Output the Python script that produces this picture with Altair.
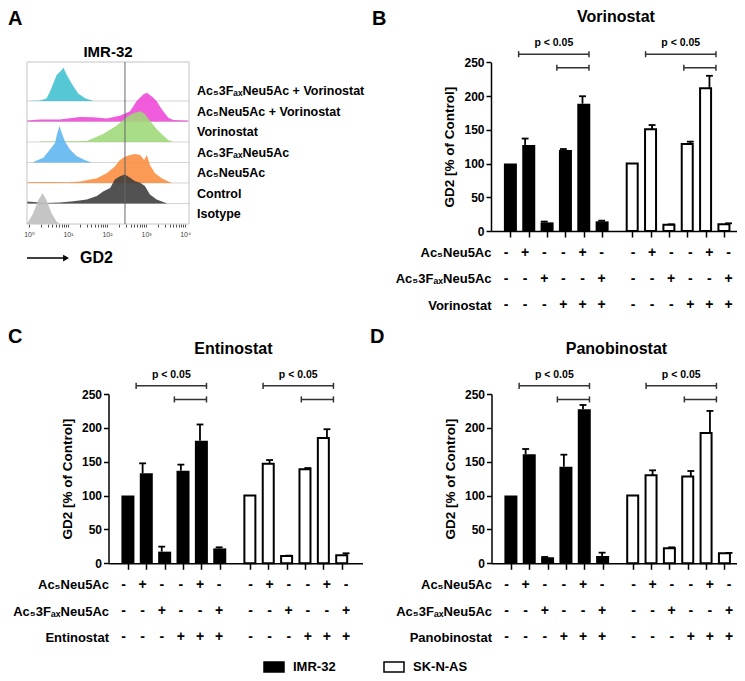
import altair as alt
import pandas as pd

FONT = "Liberation Sans, Arial, DejaVu Sans, sans-serif"

# ---------------- data ----------------
cells = ["IMR-32", "SK-N-AS"]
row_ac5 = "Ac₅Neu5Ac"
row_f = "Ac₅3FₐₓNeu5Ac"
sign_ac5 = ["-", "+", "-", "-", "+", "-"]
sign_f = ["-", "-", "+", "-", "-", "+"]
sign_hdac = ["-", "-", "-", "+", "+", "+"]

# B: Vorinostat
vor_imr = [100, 127.5, 12.8, 120, 188.7, 14.3]
vor_imr_err = [0, 9.5, 1.2, 1.5, 11, 1.0]
vor_sk = [100, 150.7, 9.4, 129, 211.5, 10]
vor_sk_err = [0, 6.3, 0.5, 3.4, 18.5, 1.4]
# C: Entinostat
ent_imr = [100, 133, 17.2, 136.8, 181, 22]
ent_imr_err = [0, 14.6, 7.4, 8.9, 24, 1.6]
ent_sk = [100, 147, 10.8, 139, 185, 11.8]
ent_sk_err = [0, 5.5, 0.5, 1.7, 13, 3]
# D: Panobinostat
pan_imr = [100, 160.9, 8.9, 142.7, 227.4, 10.8]
pan_imr_err = [0, 7.9, 0.5, 17.7, 6.4, 4.9]
pan_sk = [100, 130, 22.1, 128, 192.4, 14.8]
pan_sk_err = [0, 7.3, 1.5, 8.3, 32.6, 0.5]

# A: flow cytometry histograms (log10 GD2 intensity, relative count)
hist_labels = ["Ac₅3FₐₓNeu5Ac + Vorinostat", "Ac₅Neu5Ac + Vorinostat", "Vorinostat",
               "Ac₅3FₐₓNeu5Ac", "Ac₅Neu5Ac", "Control", "Isotype"]
hist_colors = ["#3fbfcf", "#ee45d6", "#9ed877", "#5cb4ef", "#fa8c3d", "#3a3a3a", "#bdbdbd"]
cyn_x = [-0.05, 0.28, 0.45, 0.54, 0.71, 0.84, 0.88, 0.97, 1.09, 1.26, 1.44, 1.65]
cyn_h = [0.0, 0.02, 0.12, 0.46, 1.27, 1.51, 1.63, 1.27, 0.86, 0.37, 0.13, 0.0]
mag_x = [-0.05, 0.28, 0.79, 1.31, 1.65, 1.99, 2.33, 2.59, 2.76, 2.93, 3.02, 3.15, 3.27, 3.4, 3.57, 3.7, 4.08]
mag_h = [0.05, 0.1, 0.1, 0.22, 0.2, 0.15, 0.28, 0.5, 1.0, 1.32, 1.4, 1.22, 1.0, 0.59, 0.18, 0.07, 0.05]
grn_x = [0.28, 1.0, 1.48, 1.9, 2.25, 2.5, 2.67, 2.85, 2.97, 3.1, 3.27, 3.44, 3.57, 3.7]
grn_h = [0.02, 0.03, 0.05, 0.39, 0.8, 1.2, 1.4, 1.5, 1.37, 1.04, 0.63, 0.31, 0.1, 0.0]
blu_x = [0.11, 0.37, 0.54, 0.67, 0.72, 0.78, 0.84, 0.92, 1.05, 1.22, 1.44, 1.61]
blu_h = [0.02, 0.23, 0.63, 0.96, 1.4, 1.78, 1.45, 1.04, 0.63, 0.31, 0.11, 0.0]
ora_x = [-0.05, 0.5, 1.0, 1.31, 1.74, 1.99, 2.2, 2.33, 2.46, 2.59, 2.72, 2.85, 2.95, 3.02, 3.1, 3.23, 3.4, 3.57, 3.67]
ora_h = [0.04, 0.05, 0.04, 0.07, 0.23, 0.47, 0.8, 1.12, 1.28, 1.37, 1.41, 1.37, 1.12, 1.37, 0.88, 0.47, 0.23, 0.07, 0.0]
ctl_x = [-0.05, 0.11, 0.45, 0.79, 1.14, 1.48, 1.74, 1.91, 2.08, 2.2, 2.33, 2.46, 2.59, 2.72, 2.85, 2.97, 3.1, 3.27, 3.44, 3.54]
ctl_h = [0.1, 0.07, 0.03, 0.05, 0.11, 0.2, 0.36, 0.6, 0.76, 1.17, 1.33, 1.41, 1.25, 1.09, 1.01, 0.85, 0.44, 0.2, 0.07, 0.0]
iso_x = [-0.05, -0.02, 0.11, 0.24, 0.35, 0.45, 0.58, 0.71, 0.79]
iso_h = [0.05, 0.11, 0.52, 1.17, 1.5, 1.17, 0.52, 0.11, 0.0]
hist_logx = [cyn_x, mag_x, grn_x, blu_x, ora_x, ctl_x, iso_x]
hist_h = [cyn_h, mag_h, grn_h, blu_h, ora_h, ctl_h, iso_h]
gate_log = 2.46
log_ticks = [m * 10 ** k for k in range(4) for m in range(1, 10)] + [10000]

# ---------------- layout constants ----------------
W, H = 729, 665
PX = 19.12          # px per bar slot
GROUP_OFF = 6.64    # slot offset of second cell line
XMIN = -0.785
HW = 0.34           # half bar width in slots
CAP = 0.18
BR_LONG, BR_SHORT, P_Y, TITLE_Y = 262, 242, 278, 309

layers = []


def txt(**kw):
    base = dict(font=FONT, fontWeight="bold", color="black")
    base.update(kw)
    return base


def bar_panel(ax, y0, y250, xmax, imr, imr_err, sk, sk_err, drug, letter, letter_xy):
    xs = alt.Scale(domain=[XMIN, xmax], range=[ax, ax + (xmax - XMIN) * PX], nice=False, zero=False)
    ys = alt.Scale(domain=[0, 250], range=[y0, y250], nice=False, zero=False)
    n = len(imr)
    df = pd.DataFrame({
        "pos": [float(i) for i in range(n)] + [i + GROUP_OFF for i in range(n)],
        "value": imr + sk,
        "err": imr_err + sk_err,
        "cell": [cells[0]] * n + [cells[1]] * n,
    })
    df["top"] = df["value"] + df["err"]
    df["cl"] = df["pos"] - CAP
    df["cr"] = df["pos"] + CAP
    fill = alt.Fill("cell:N", scale=alt.Scale(domain=cells, range=["#000000", "#ffffff"]),
                    legend=alt.Legend(orient="none", legendX=255, legendY=648, direction="horizontal",
                                      title=None, symbolType="M-1,-0.5H1V0.5H-1Z", symbolSize=400,
                                      symbolStrokeColor="black", symbolStrokeWidth=1.5,
                                      labelFont=FONT, labelFontSize=13, labelFontWeight="bold",
                                      labelColor="black", labelOffset=8, columnPadding=45, padding=0))
    xaxis = alt.Axis(orient="bottom", offset=y0 - H, values=list(df["pos"]), labels=False, title=None,
                     tickSize=6, tickWidth=1.5, tickColor="black", domainColor="black", domainWidth=1.5,
                     grid=False)
    yaxis = alt.Axis(orient="left", offset=-ax, values=[0, 50, 100, 150, 200, 250], title="GD2 [% of Control]",
                     tickSize=5, tickWidth=1.5, tickColor="black", domainColor="black", domainWidth=1.5,
                     labelFont=FONT, labelFontSize=12, labelFontWeight="bold", labelColor="black",
                     labelPadding=2, titleFont=FONT, titleFontSize=13.5, titleFontWeight="bold",
                     titleColor="black", titlePadding=7, grid=False)
    imr_df = df[df.cell == cells[0]]
    sk_df = df[df.cell == cells[1]]
    layers.append(alt.Chart(imr_df).mark_bar(size=13).encode(
        x=alt.X("pos:Q", scale=xs, axis=xaxis), y=alt.Y("value:Q", scale=ys, axis=yaxis), fill=fill))
    layers.append(alt.Chart(sk_df).mark_bar(size=11, stroke="black", strokeWidth=2).encode(
        x=alt.X("pos:Q", scale=xs, axis=None), y=alt.Y("value:Q", scale=ys, axis=None), fill=fill))
    e = df[df.err > 0]
    layers.append(alt.Chart(e).mark_rule(color="black", strokeWidth=1.8).encode(
        x=alt.X("pos:Q", scale=xs, axis=None), y=alt.Y("value:Q", scale=ys, axis=None), y2="top"))
    layers.append(alt.Chart(e).mark_rule(color="black", strokeWidth=1.8).encode(
        x=alt.X("cl:Q", scale=xs, axis=None), x2="cr", y=alt.Y("top:Q", scale=ys, axis=None)))
    # significance brackets
    br = []
    for g in [0.0, GROUP_OFF]:
        br.append(dict(x1=g + 1 - HW, x2=g + 4 + HW, lvl=BR_LONG))
        br.append(dict(x1=g + 3 - HW, x2=g + 4 + HW, lvl=BR_SHORT))
    brd = pd.DataFrame(br)
    layers.append(alt.Chart(brd).mark_rule(color="#333", strokeWidth=1.5).encode(
        x=alt.X("x1:Q", scale=xs, axis=None), x2="x2", y=alt.Y("lvl:Q", scale=ys, axis=None)))
    caps = pd.DataFrame([dict(x=b[k], lo=b["lvl"] - 4.5, hi=b["lvl"] + 4.5) for b in br for k in ("x1", "x2")])
    layers.append(alt.Chart(caps).mark_rule(color="#333", strokeWidth=1.5).encode(
        x=alt.X("x:Q", scale=xs, axis=None), y=alt.Y("lo:Q", scale=ys, axis=None), y2="hi"))
    pt = pd.DataFrame({"x": [2.5, GROUP_OFF + 2.5], "y": [P_Y, P_Y], "t": ["p < 0.05", "p < 0.05"]})
    layers.append(alt.Chart(pt).mark_text(**txt(fontSize=10.5, baseline="middle")).encode(
        x=alt.X("x:Q", scale=xs, axis=None), y=alt.Y("y:Q", scale=ys, axis=None), text="t:N"))
    tt = pd.DataFrame({"x": [5.75], "y": [TITLE_Y], "t": [drug]})
    layers.append(alt.Chart(tt).mark_text(**txt(fontSize=16, baseline="alphabetic")).encode(
        x=alt.X("x:Q", scale=xs, axis=None), y=alt.Y("y:Q", scale=ys, axis=None), text="t:N"))
    # sign table
    rows = [row_ac5, row_f, drug]
    signs = [sign_ac5 * 2, sign_f * 2, sign_hdac * 2]
    recs = []
    for r, s in zip(rows, signs):
        for p, sg in zip(df["pos"], s):
            recs.append(dict(row=r, pos=p, sign=sg))
    tdf = pd.DataFrame(recs)
    row_scale = alt.Scale(type="point", domain=rows, range=[y0 + 21.5, y0 + 74], padding=0)
    row_axis = alt.Axis(orient="left", offset=-ax, title=None, domain=False, ticks=False, tickSize=0,
                        labelPadding=0, labelFont=FONT, labelFontSize=13, labelFontWeight="bold",
                        labelColor="black", labelLimit=0, grid=False)
    layers.append(alt.Chart(tdf).mark_text(**txt(fontSize=14, baseline="middle")).encode(
        x=alt.X("pos:Q", scale=xs, axis=None), y=alt.Y("row:N", scale=row_scale, axis=row_axis), text="sign:N"))
    ld = pd.DataFrame({"t": [letter]})
    layers.append(alt.Chart(ld).mark_text(**txt(fontSize=20, align="left", baseline="alphabetic")).encode(
        x=alt.value(letter_xy[0]), y=alt.value(letter_xy[1]), text="t:N"))


# ---------------- panel A ----------------
AXS = alt.Scale(type="log", domain=[10 ** -0.05, 10 ** 4.1], range=[19, 181], nice=False)
AYS = alt.Scale(domain=[0, 7.9], range=[216, 54], nice=False, zero=False)


def ax_(f, axis=None):
    return alt.X(f, scale=AXS, axis=axis)


def ay_(f):
    return alt.Y(f, scale=AYS, axis=None)


# separators
sep = pd.DataFrame({"x": [10 ** -0.05] * 6, "x2": [10 ** 4.1] * 6, "y": [1, 2, 3, 4, 5, 6]})
layers.append(alt.Chart(sep).mark_rule(color="#d4d4d4", strokeWidth=1).encode(x=ax_("x:Q"), x2="x2", y=ay_("y:Q")))
for k in range(7):
    r = 6 - k
    d = pd.DataFrame({"x": [10 ** v for v in hist_logx[k]], "h": hist_h[k]})
    d["y"] = d["h"] + r
    d["y0"] = float(r)
    layers.append(alt.Chart(d).mark_area(color=hist_colors[k], opacity=0.88).encode(
        x=ax_("x:Q"), y=ay_("y:Q"), y2="y0"))
box = pd.DataFrame({"x": [10 ** -0.05], "x2": [10 ** 4.1], "y": [0.0], "y2": [7.9]})
label_expr = ("datum.value == 1 ? '10⁰' : datum.value == 10 ? '10¹' : datum.value == 100 ? '10²' : "
              "datum.value == 1000 ? '10³' : datum.value == 10000 ? '10⁴' : ''")
a_axis = alt.Axis(orient="bottom", offset=216 - H, values=log_ticks, labelExpr=label_expr, tickSize=3,
                  tickWidth=0.8, tickColor="#222", domain=False, grid=False, title=None, labelFont=FONT,
                  labelFontSize=7, labelColor="#444", labelPadding=3, labelFlush=False, labelOverlap=False)
layers.append(alt.Chart(box).mark_rect(fillOpacity=0, stroke="#c4c4c4", strokeWidth=1).encode(
    x=ax_("x:Q", a_axis), x2="x2", y=ay_("y:Q"), y2="y2"))
gate = pd.DataFrame({"x": [10 ** gate_log], "y": [0.0], "y2": [7.9]})
layers.append(alt.Chart(gate).mark_rule(color="#666", strokeWidth=1).encode(x=ax_("x:Q"), y=ay_("y:Q"), y2="y2"))
lab = pd.DataFrame({"t": hist_labels, "y": [6 - k + 0.48 for k in range(7)]})
layers.append(alt.Chart(lab).mark_text(**txt(fontSize=12.5, align="left", baseline="middle")).encode(
    x=alt.value(189), y=ay_("y:Q"), text="t:N"))
ttl = pd.DataFrame({"x": [10 ** 2.025], "y": [8.39], "t": ["IMR-32"]})
layers.append(alt.Chart(ttl).mark_text(**txt(fontSize=15, baseline="middle")).encode(
    x=ax_("x:Q"), y=ay_("y:Q"), text="t:N"))
arr = pd.DataFrame({"x": [10 ** -0.05], "x2": [10 ** 0.9], "y": [-1.66]})
layers.append(alt.Chart(arr).mark_rule(color="black", strokeWidth=1.5).encode(x=ax_("x:Q"), x2="x2", y=ay_("y:Q")))
head = pd.DataFrame({"x": [10 ** 0.95], "y": [-1.66]})
layers.append(alt.Chart(head).mark_point(shape="triangle-right", filled=True, color="black", size=45, opacity=1).encode(
    x=ax_("x:Q"), y=ay_("y:Q")))
gd = pd.DataFrame({"x": [10 ** 1.308], "y": [-1.66], "t": ["GD2"]})
layers.append(alt.Chart(gd).mark_text(**txt(fontSize=16, align="left", baseline="middle")).encode(
    x=ax_("x:Q"), y=ay_("y:Q"), text="t:N"))
la = pd.DataFrame({"t": ["A"]})
layers.append(alt.Chart(la).mark_text(**txt(fontSize=20, align="left", baseline="alphabetic")).encode(
    x=alt.value(0), y=alt.value(17), text="t:N"))

# ---------------- panels B, C, D ----------------
bar_panel(483, 223, 54.3, 12.1, vor_imr, vor_imr_err, vor_sk, vor_sk_err, "Vorinostat", "B", (364, 17))
bar_panel(100.5, 555.3, 386, 12.5, ent_imr, ent_imr_err, ent_sk, ent_sk_err, "Entinostat", "C", (0, 335))
bar_panel(483.5, 555.3, 386, 12.1, pan_imr, pan_imr_err, pan_sk, pan_sk_err, "Panobinostat", "D", (362, 335))

chart = alt.layer(*layers).resolve_scale(x="independent", y="independent").properties(
    width=W, height=H, autosize=alt.AutoSizeParams(type="none"), padding=0
).configure_view(stroke=None).configure_axis(grid=False)

chart.save("out.html", embed_options={"renderer": "svg", "actions": False})
